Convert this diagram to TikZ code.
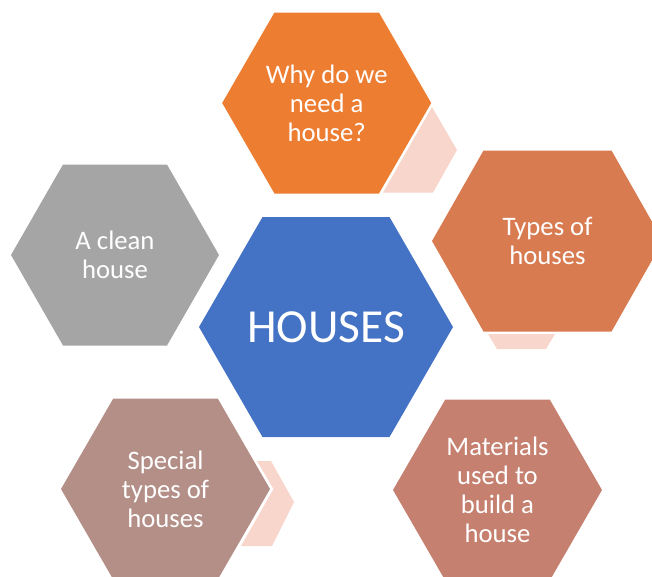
\documentclass[tikz,border=0pt]{standalone}
\usepackage{fontspec}
\setmainfont{Carlito}
\usepackage{tikz}

\definecolor{hubblue}{HTML}{4472C4}
\definecolor{whyorange}{HTML}{ED7D31}
\definecolor{typesorange}{HTML}{D87B51}
\definecolor{materialsbrown}{HTML}{C5806F}
\definecolor{specialmauve}{HTML}{B38F87}
\definecolor{cleangray}{HTML}{A5A5A5}
\definecolor{chevronpink}{HTML}{F8D6CB}

\begin{document}
\begin{tikzpicture}[x=0.02cm, y=-0.02cm,
	hexcell/.style={fill=#1},
	hexcell/.default=cleangray,
	chevron/.style={fill=chevronpink},
	celltext/.style={text=white, align=center, font=\fontsize{15.2}{16.6}\selectfont},
	hubtext/.style={text=white, font=\fontsize{27}{30}\selectfont}]

	\useasboundingbox (0,0) rectangle (652,576);
	\clip (0,0) rectangle (652,576);

	\coordinate (hub) at (326,327);
	\coordinate (why) at (326.7,103);
	\coordinate (types) at (547.5,241);
	\coordinate (materials) at (497.5,490);
	\coordinate (special) at (165.5,489);
	\coordinate (clean) at (115,255);

	% pale arrows between the cells
	\fill [chevron] (432,107) -- (457,150) -- (433,192.5) -- (383,192.5) -- cycle;
	\fill [chevron] (488,334) -- (555,334) -- (546,349) -- (497,349) -- cycle;
	\fill [chevron] (257,461) -- (271,461) -- (294,502) -- (272,546) -- (241,546) -- (273.5,489) -- cycle;

	\fill [hexcell=hubblue] (hub) +(-127,0) -- +(-63.5,-110) -- +(63.5,-110) -- +(127,0) -- +(63.5,110) -- +(-63.5,110) -- cycle;
	\fill [hexcell=whyorange] (why) +(-104.5,0) -- +(-52.25,-90.5) -- +(52.25,-90.5) -- +(104.5,0) -- +(52.25,90.5) -- +(-52.25,90.5) -- cycle;
	\fill [hexcell=typesorange] (types) +(-115.5,0) -- +(-64,-90.5) -- +(64,-90.5) -- +(115.5,0) -- +(64,90.5) -- +(-64,90.5) -- cycle;
	\fill [hexcell=materialsbrown] (materials) +(-104.5,0) -- +(-52.25,-90.5) -- +(52.25,-90.5) -- +(104.5,0) -- +(52.25,90.5) -- +(-52.25,90.5) -- cycle;
	\fill [hexcell=specialmauve] (special) +(-104.5,0) -- +(-52.25,-90.5) -- +(52.25,-90.5) -- +(104.5,0) -- +(52.25,90.5) -- +(-52.25,90.5) -- cycle;
	\fill [hexcell] (clean) +(-104,0) -- +(-52,-90.5) -- +(52,-90.5) -- +(104,0) -- +(52,90.5) -- +(-52,90.5) -- cycle;

	\node [hubtext] (hub text) at (hub) {HOUSES};
	\node [celltext] (why text) at (why) {Why do we\\need a\\house?};
	\node [celltext] (types text) at (types) {Types of\\houses};
	\node [celltext] (materials text) at (materials) {Materials\\used to\\build a\\house};
	\node [celltext] (special text) at (special) {Special\\types of\\houses};
	\node [celltext] (clean text) at (clean) {A clean\\house};
\end{tikzpicture}
\end{document}
